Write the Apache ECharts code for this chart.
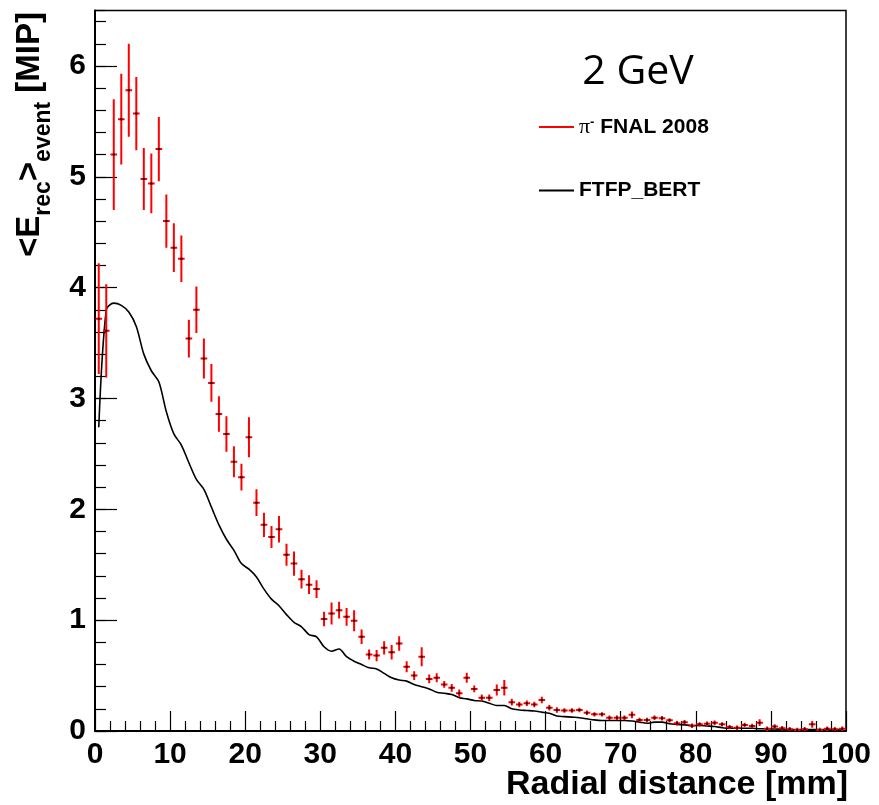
<!DOCTYPE html>
<html>
<head>
<meta charset="utf-8">
<script src="https://cdn.jsdelivr.net/npm/echarts@6/dist/echarts.min.js"></script>
<style>
html, body { margin: 0; padding: 0; background: #fff; }
#main { width: 879px; height: 805px; }
</style>
</head>
<body>
<div id="main"></div>
<script>
// radial bins (mm), 1 mm wide
var binCenters = [0.5,1.5,2.5,3.5,4.5,5.5,6.5,7.5,8.5,9.5,10.5,11.5,12.5,13.5,14.5,15.5,16.5,17.5,18.5,19.5,
  20.5,21.5,22.5,23.5,24.5,25.5,26.5,27.5,28.5,29.5,30.5,31.5,32.5,33.5,34.5,35.5,36.5,37.5,38.5,39.5,
  40.5,41.5,42.5,43.5,44.5,45.5,46.5,47.5,48.5,49.5,50.5,51.5,52.5,53.5,54.5,55.5,56.5,57.5,58.5,59.5,
  60.5,61.5,62.5,63.5,64.5,65.5,66.5,67.5,68.5,69.5,70.5,71.5,72.5,73.5,74.5,75.5,76.5,77.5,78.5,79.5,
  80.5,81.5,82.5,83.5,84.5,85.5,86.5,87.5,88.5,89.5,90.5,91.5,92.5,93.5,94.5,95.5,96.5,97.5,98.5,99.5];

// pi- FNAL 2008 data
var dataE = [3.72,3.61,5.20,5.52,5.78,5.57,4.98,4.94,5.25,4.60,4.36,4.26,3.54,3.80,3.36,3.14,2.86,2.68,2.43,2.29,
  2.65,2.06,1.86,1.75,1.82,1.59,1.51,1.37,1.32,1.28,1.01,1.06,1.09,1.03,0.995,0.85,0.69,0.68,0.75,0.71,
  0.79,0.58,0.50,0.67,0.47,0.48,0.42,0.39,0.34,0.48,0.38,0.30,0.30,0.37,0.39,0.26,0.24,0.25,0.24,0.28,
  0.21,0.19,0.185,0.185,0.19,0.165,0.15,0.15,0.12,0.12,0.12,0.146,0.10,0.10,0.12,0.115,0.096,0.07,0.08,0.047,
  0.06,0.065,0.075,0.06,0.035,0.03,0.055,0.045,0.075,0.02,0.04,0.025,0.015,0.01,0.015,0.06,0.01,0.02,0.015,0.02];
var dataErr = [0.50,0.42,0.50,0.41,0.42,0.33,0.28,0.27,0.29,0.24,0.22,0.21,0.17,0.21,0.18,0.17,0.16,0.16,0.14,0.12,
  0.18,0.12,0.11,0.10,0.12,0.10,0.11,0.085,0.085,0.08,0.065,0.10,0.075,0.08,0.095,0.065,0.045,0.05,0.06,0.065,
  0.065,0.05,0.04,0.085,0.04,0.04,0.03,0.035,0.035,0.045,0.03,0.03,0.03,0.05,0.07,0.03,0.025,0.025,0.025,0.03,
  0.025,0.025,0.02,0.02,0.02,0.02,0.02,0.02,0.02,0.02,0.02,0.03,0.02,0.02,0.02,0.02,0.02,0.02,0.02,0.02,
  0.02,0.02,0.02,0.02,0.02,0.02,0.02,0.02,0.03,0.02,0.02,0.02,0.02,0.02,0.02,0.03,0.02,0.02,0.02,0.02];

// FTFP_BERT simulation
var simE = [2.74,3.80,3.86,3.84,3.78,3.65,3.40,3.25,3.15,2.88,2.68,2.58,2.42,2.27,2.18,2.02,1.86,1.73,1.63,1.51,
  1.46,1.39,1.28,1.19,1.13,1.05,0.98,0.94,0.87,0.85,0.76,0.72,0.74,0.67,0.63,0.60,0.57,0.56,0.52,0.48,
  0.46,0.45,0.42,0.40,0.38,0.35,0.34,0.33,0.30,0.29,0.275,0.27,0.25,0.23,0.23,0.20,0.19,0.185,0.18,0.17,
  0.16,0.135,0.13,0.125,0.12,0.11,0.10,0.095,0.095,0.095,0.095,0.09,0.08,0.07,0.08,0.08,0.065,0.06,0.055,0.05,
  0.05,0.045,0.04,0.03,0.025,0.025,0.025,0.025,0.02,0.02,0.018,0.015,0.013,0.012,0.012,0.012,0.012,0.012,0.012,0.018];

var xTicks = [0, 100, 10];     // min, max, interval
var yTicks = [0, 6.5, 1, 0.2]; // min, max, major, minor

var dataName = 'π- FNAL 2008';
var simName = 'FTFP_BERT';

var myChart = echarts.init(document.getElementById('main'), null, {renderer: 'canvas'});

var dataPoints = binCenters.map(function (x, i) { return [x, dataE[i], dataErr[i]]; });
var simPoints = binCenters.map(function (x, i) { return [x, simE[i]]; });

function renderErr(params, api) {
  var x = api.value(0), y = api.value(1), e = api.value(2);
  var c = api.coord([x, y]);
  var top = api.coord([x, y + e]);
  var bot = api.coord([x, Math.max(y - e, 0)]);
  var l = api.coord([x - 0.44, y]);
  var r = api.coord([x + 0.44, y]);
  return {
    type: 'group',
    children: [
      {type: 'line', shape: {x1: c[0], y1: top[1], x2: c[0], y2: bot[1]}, style: {stroke: '#ff0000', lineWidth: 2}},
      {type: 'line', shape: {x1: l[0], y1: c[1], x2: r[0], y2: c[1]}, style: {stroke: '#ff0000', lineWidth: 2}},
      {type: 'rect', shape: {x: c[0] - 1, y: c[1] - 1, width: 2, height: 2}, style: {fill: '#000'}}
    ]
  };
}

// y axis title with sub-scripts, rotated
var ctx = document.createElement('canvas').getContext('2d');
function textW(t, size) {
  ctx.font = 'bold ' + size + 'px "Liberation Sans"';
  return ctx.measureText(t).width;
}
var titleParts = [['<E', 33, 0], ['rec', 23, 14], ['>', 33, 0], ['event', 23, 14], [' [MIP]', 33, 0]];
var titleKids = [];
var pos = 0;
titleParts.forEach(function (p) {
  titleKids.push({
    type: 'text', x: pos, y: p[2],
    style: {text: p[0], fontFamily: 'Liberation Sans', fontWeight: 'bold', fontSize: p[1],
      fill: '#000', align: 'left', verticalAlign: 'middle'}
  });
  pos += textW(p[0], p[1]);
});

var labelFont = {color: '#000', fontSize: 30, fontWeight: 'bold', fontFamily: 'Liberation Sans'};

var option = {
  animation: false,
  backgroundColor: '#fff',
  grid: {
    left: 95, right: 33, top: 10.5, bottom: 74,
    show: true, borderColor: '#000', borderWidth: 1.5,
    containLabel: false, outerBoundsMode: 'none'
  },
  legend: {
    orient: 'vertical', left: 534, top: 111,
    itemWidth: 35, itemHeight: 2, itemGap: 42, icon: 'rect',
    selectedMode: false,
    textStyle: {
      color: '#000', fontSize: 21, fontWeight: 'bold', fontFamily: 'Liberation Sans',
      rich: {
        pi: {fontFamily: 'Liberation Serif', fontWeight: 'normal', fontSize: 22, color: '#000'},
        sup: {fontFamily: 'Liberation Sans', fontWeight: 'bold', fontSize: 13, color: '#000', verticalAlign: 'top'}
      }
    },
    formatter: function (name) {
      return name === dataName ? '{pi|π}{sup|-} FNAL 2008' : name;
    },
    data: [dataName, simName]
  },
  xAxis: {
    type: 'value', min: xTicks[0], max: xTicks[1], interval: xTicks[2], position: 'bottom',
    axisLine: {show: true, onZero: false, lineStyle: {color: '#000', width: 2}},
    axisTick: {show: true, inside: true, length: 20, lineStyle: {color: '#000', width: 1.2}},
    minorTick: {show: true, splitNumber: 5, length: 10, lineStyle: {color: '#000', width: 1.2}},
    axisLabel: Object.assign({margin: 9}, labelFont),
    splitLine: {show: false}
  },
  yAxis: [{
    type: 'value', min: yTicks[0], max: yTicks[1], interval: yTicks[2], position: 'left',
    axisLine: {show: true, onZero: false, lineStyle: {color: '#000', width: 2}},
    axisTick: {show: true, inside: true, length: 22, lineStyle: {color: '#000', width: 1.2}},
    axisLabel: Object.assign({margin: 9, showMaxLabel: false}, labelFont),
    splitLine: {show: false}
  }, {
    type: 'value', min: yTicks[0], max: yTicks[1], interval: yTicks[3], position: 'left',
    axisLine: {show: false},
    axisTick: {show: true, inside: true, length: 11, lineStyle: {color: '#000', width: 1.2}},
    axisLabel: {show: false},
    splitLine: {show: false}
  }],
  graphic: [
    {type: 'group', x: 29.5, y: 257, rotation: Math.PI / 2, children: titleKids},
    {type: 'text', x: 848, y: 785,
      style: {text: 'Radial distance [mm]', fontFamily: 'Liberation Sans', fontWeight: 'bold', fontSize: 34,
        fill: '#000', align: 'right', verticalAlign: 'middle'}},
    {type: 'text', x: 638, y: 72.5,
      style: {text: '2 GeV', fontFamily: 'Open Sans', fontSize: 41, fill: '#000', align: 'center', verticalAlign: 'middle'}}
  ],
  series: [{
    name: simName, type: 'line', color: '#000',
    data: simPoints, smooth: 0.3, showSymbol: false, symbol: 'none',
    lineStyle: {color: '#000', width: 1.6}, itemStyle: {color: '#000'},
    z: 2
  }, {
    name: dataName, type: 'custom', renderItem: renderErr,
    data: dataPoints, encode: {x: 0, y: 1},
    itemStyle: {color: '#ff0000'}, clip: true,
    z: 3
  }]
};

myChart.setOption(option);
</script>
</body>
</html>
